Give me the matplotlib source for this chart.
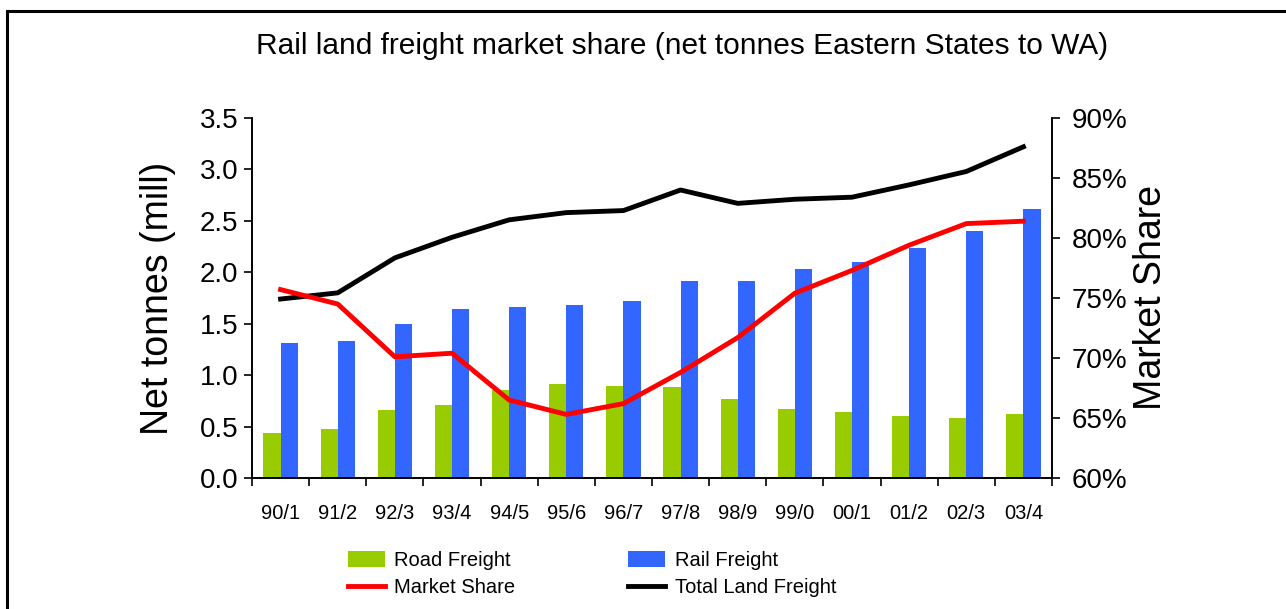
import numpy as np
import matplotlib
matplotlib.use("Agg")
from matplotlib import pyplot as plt
from matplotlib.patches import Rectangle
from matplotlib.ticker import FixedLocator, NullFormatter

plt.rcParams['font.family'] = ['Liberation Sans', 'DejaVu Sans']

# datos
anios = ['90/1', '91/2', '92/3', '93/4', '94/5', '95/6', '96/7',
         '97/8', '98/9', '99/0', '00/1', '01/2', '02/3', '03/4']
road = [0.44, 0.48, 0.66, 0.71, 0.86, 0.91, 0.89, 0.88, 0.77, 0.67, 0.64, 0.60, 0.58, 0.62]
rail = [1.31, 1.33, 1.50, 1.64, 1.66, 1.68, 1.72, 1.92, 1.92, 2.03, 2.10, 2.24, 2.40, 2.62]
total = [1.74, 1.80, 2.14, 2.34, 2.51, 2.58, 2.60, 2.80, 2.67, 2.71, 2.73, 2.85, 2.98, 3.22]
share = [75.7, 74.5, 70.1, 70.4, 66.5, 65.3, 66.2, 68.8, 71.7, 75.4, 77.3, 79.4, 81.2, 81.4]

x = np.arange(len(anios))
w = 0.3

fig = plt.figure(figsize=(12.86, 6.09), dpi=100)
ax = fig.add_axes([252/1286, 1-478/609, 800/1286, 360/609])
ax2 = ax.twinx()

b1 = ax.bar(x - w/2, road, w, color='#99cc00', label='Road Freight', zorder=2)
b2 = ax.bar(x + w/2, rail, w, color='#3366ff', label='Rail Freight', zorder=2)
l2, = ax.plot(x, total, color='black', lw=3.5, label='Total Land Freight', zorder=3)
l1, = ax2.plot(x, share, color='#ff0000', lw=3.5, label='Market Share', zorder=3)

ax.set_xlim(-0.5, len(anios) - 0.5)
ax.set_ylim(0, 3.5)
ax.set_yticks(np.arange(0, 3.51, 0.5))
ax.set_yticklabels(['{:.1f}'.format(v) for v in np.arange(0, 3.51, 0.5)], fontsize=20)
ax2.set_ylim(60, 90)
ax2.set_yticks(range(60, 91, 5))
ax2.set_yticklabels(['{}%'.format(v) for v in range(60, 91, 5)], fontsize=20)

# ticks entre categorias, etiquetas centradas
ax.set_xticks(x)
ax.set_xticklabels(anios, fontsize=14.5)
ax.tick_params(axis='x', which='major', length=0, pad=19)
ax.xaxis.set_minor_locator(FixedLocator(np.arange(-0.5, len(anios), 1)))
ax.xaxis.set_minor_formatter(NullFormatter())
ax.tick_params(axis='x', which='minor', length=6, width=1.2)
ax.tick_params(axis='y', length=6, width=1.2, pad=4)
ax2.tick_params(axis='y', length=6, width=1.2, pad=8)

for a in (ax, ax2):
    a.spines['top'].set_visible(False)
    for s in ('left', 'right', 'bottom'):
        a.spines[s].set_linewidth(1.2)

ax.set_ylabel('Net tonnes (mill)', fontsize=27, labelpad=17)
ax2.set_ylabel('Market Share', fontsize=27, labelpad=4)
fig.text(0.53, 1-46/609, 'Rail land freight market share (net tonnes Eastern States to WA)',
         ha='center', va='center', fontsize=21.5)

fig.legend([b1, l1, b2, l2], ['Road Freight', 'Market Share', 'Rail Freight', 'Total Land Freight'],
           ncol=2, loc='upper left', bbox_to_anchor=(348/1286, 1-551/609), frameon=False,
           borderpad=0, borderaxespad=0,
           fontsize=14.5, handlelength=1.85, handleheight=0.85, columnspacing=5.6,
           labelspacing=0.4, handletextpad=0.45)

# marco de la figura
fig.patches.append(Rectangle((7/1286, -0.1), 1.2, 1.1 - 11/609, transform=fig.transFigure,
                             fill=False, ec='black', lw=2.2))

plt.savefig('out.png', dpi=100)
